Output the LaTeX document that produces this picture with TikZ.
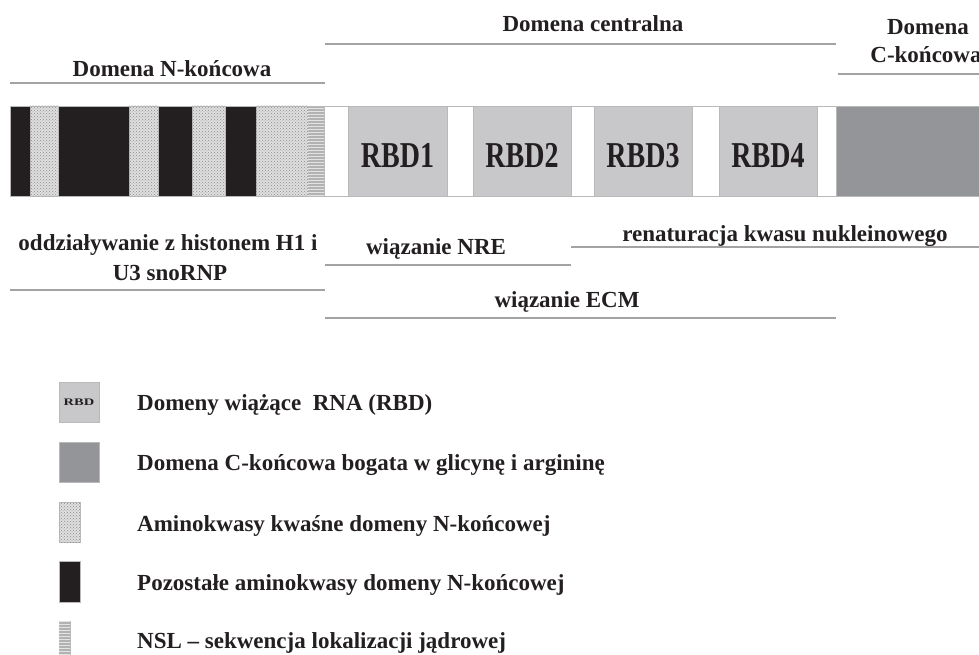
\documentclass[tikz,border=0pt]{standalone}
\usepackage{fontspec}
\setmainfont{Liberation Serif}
\usetikzlibrary{patterns}
\definecolor{rbdgray}{HTML}{C8C8CA}
\definecolor{cgray}{HTML}{939598}
\definecolor{blk}{HTML}{231F20}
\definecolor{rulec}{HTML}{A3A3A3}
\begin{document}
\begin{tikzpicture}[x=1pt,y=-1pt,
  seg/.style={draw=gray!55, line width=0.7pt},
  blackseg/.style={seg, fill=blk},
  acidseg/.style={seg, fill=gray!25, postaction={pattern=crosshatch dots, pattern color=gray!90}},
  nslseg/.style={seg, fill=gray!60, postaction={pattern=horizontal lines, pattern color=gray!22}},
  rbdseg/.style={seg, fill=rbdgray},
  cseg/.style={seg, fill=cgray},
  rulel/.style={draw=rulec, line width=1.3pt},
  lbl/.style={font=\fontsize{23}{27}\selectfont\bfseries, inner sep=0pt, anchor=base, text=blk},
  leg/.style={lbl, anchor=base west},
  rbdlbl/.style={font=\fontsize{28}{30}\selectfont\bfseries, inner sep=0pt, text=blk}
]
\useasboundingbox (0,0) rectangle (979,655);

% ---- bar ----
\draw[seg] (10,106) rectangle (985,196);
\path[blackseg] (10,106) rectangle (30,196);
\path[acidseg]  (30,106) rectangle (58,196);
\path[blackseg] (58,106) rectangle (129,196);
\path[acidseg]  (129,106) rectangle (158,196);
\path[blackseg] (158,106) rectangle (192,196);
\path[acidseg]  (192,106) rectangle (225,196);
\path[blackseg] (225,106) rectangle (256,196);
\path[acidseg]  (256,106) rectangle (308,196);
\path[nslseg]   (308,106) rectangle (324,196);
\path[rbdseg] (348,106) rectangle (447,196);
\path[rbdseg] (473,106) rectangle (571,196);
\path[rbdseg] (594,106) rectangle (692,196);
\path[rbdseg] (719,106) rectangle (817,196);
\path[cseg]   (836,106) rectangle (985,196);

\node[rbdlbl] (r1) at (397.5,156) {\scalebox{1}[1.3]{RBD1}};
\node[rbdlbl] (r2) at (522,156) {\scalebox{1}[1.3]{RBD2}};
\node[rbdlbl] (r3) at (643,156) {\scalebox{1}[1.3]{RBD3}};
\node[rbdlbl] (r4) at (768,156) {\scalebox{1}[1.3]{RBD4}};

% ---- headers ----
\node[lbl] (hN) at (172,77) {Domena N-końcowa};
\draw[rulel] (10,83) -- (325,83);
\node[lbl] (hC) at (593,32) {Domena centralna};
\draw[rulel] (325,44) -- (836,44);
\node[lbl] (hK1) at (928,35) {Domena};
\node[lbl] (hK2) at (926,63) {C-końcowa};
\draw[rulel] (838,74) -- (985,74);

% ---- functions ----
\node[lbl] (f1a) at (168,250) {oddziaływanie z histonem H1 i};
\node[lbl] (f1b) at (170,280) {U3 snoRNP};
\draw[rulel] (10,290) -- (325,290);
\node[lbl] (f2) at (436,254) {wiązanie NRE};
\draw[rulel] (325,265) -- (571,265);
\node[lbl] (f3) at (785,241) {renaturacja kwasu nukleinowego};
\draw[rulel] (571,247) -- (985,247);
\node[lbl] (f4) at (567,307) {wiązanie ECM};
\draw[rulel] (325,318) -- (836,318);

% ---- legend ----
\path[rbdseg] (59,382) rectangle (99,422);
\node[font=\fontsize{10}{12}\selectfont\bfseries, inner sep=0pt, text=blk] (lr) at (79,402) {\scalebox{1.45}[1]{RBD}};
\path[cseg] (59,442) rectangle (99,482);
\path[acidseg] (59,502) rectangle (80,542);
\path[blackseg] (59,561) rectangle (80,602);
\path[nslseg] (59,621) rectangle (70,658);

\node[leg] (l1) at (137,410) {Domeny wiążące\ \ RNA (RBD)};
\node[leg] (l2) at (137,470) {Domena C-końcowa bogata w glicynę i argininę};
\node[leg] (l3) at (137,531) {Aminokwasy kwaśne domeny N-końcowej};
\node[leg] (l4) at (137,590) {Pozostałe aminokwasy domeny N-końcowej};
\node[leg] (l5) at (137,648) {NSL – sekwencja lokalizacji jądrowej};
\end{tikzpicture}
\end{document}
